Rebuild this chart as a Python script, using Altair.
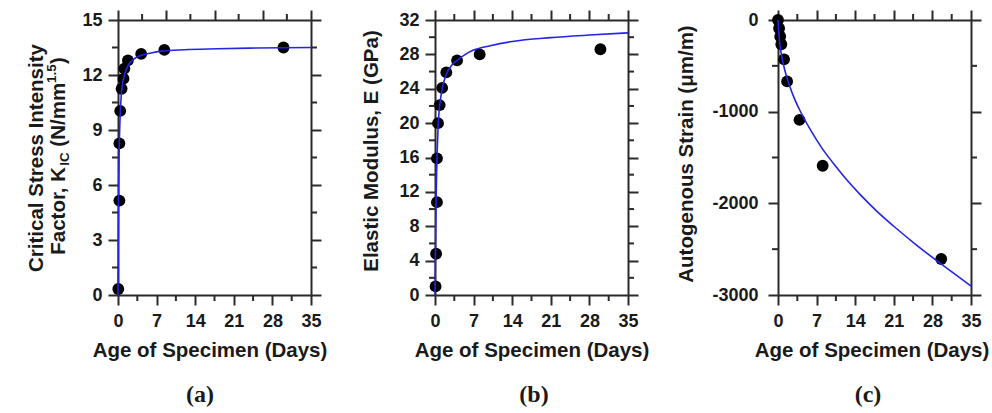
import altair as alt
import pandas as pd

# ---------------- (a) critical stress intensity factor ----------------
a_age = [0.05, 0.25, 0.25, 0.4, 0.65, 1.0, 1.15, 1.8, 4.2, 8.4, 30.0]
a_kic = [0.33, 5.15, 8.27, 10.04, 11.25, 11.8, 12.35, 12.8, 13.15, 13.37, 13.5]
a_fit_age = [0, 0.05, 0.1, 0.2, 0.3, 0.4, 0.6, 0.8, 1.0, 1.5, 2.0, 3.0, 4.0, 6.0, 8.0, 12, 18, 25, 35]
a_fit_kic = [0, 3.4, 5.4, 7.7, 9.0, 9.9, 10.9, 11.5, 11.8, 12.3, 12.6, 12.9, 13.05, 13.2, 13.3, 13.38, 13.43, 13.47, 13.5]

# ---------------- (b) elastic modulus ----------------
b_age = [0.1, 0.2, 0.35, 0.35, 0.55, 0.85, 1.3, 2.05, 4.0, 8.1, 30.0]
b_mod = [1.0, 4.8, 10.8, 15.9, 20.0, 22.1, 24.1, 25.9, 27.3, 28.0, 28.6]
b_fit_age = [0, 0.1, 0.2, 0.3, 0.4, 0.55, 0.7, 0.85, 1.0, 1.33, 2.0, 3.0, 4.0, 5.5, 7.0, 10, 14, 21, 28, 35]
b_fit_mod = [0, 6.0, 11.0, 14.5, 16.8, 19.5, 21.0, 22.1, 22.8, 24.1, 25.6, 26.7, 27.3, 28.0, 28.5, 29.0, 29.5, 29.95, 30.25, 30.5]

# ---------------- (c) autogenous strain ----------------
c_age = [0.0, 0.2, 0.4, 0.6, 1.1, 1.65, 3.9, 8.1, 29.6]
c_strain = [0, -90, -180, -265, -430, -670, -1090, -1590, -2607]
c_fit_age = [0, 0.3, 0.6, 1.2, 2, 3, 4, 6, 8, 10, 12, 15, 18, 21, 25, 30, 35]
c_fit_strain = [0, -250, -370, -540, -700, -860, -990, -1210, -1400, -1560, -1710, -1910,
                -2090, -2250, -2450, -2680, -2902]

# ---------------- tick positions ----------------
x_major = [0, 7, 14, 21, 28, 35]
x_minor = [3.5, 10.5, 17.5, 24.5, 31.5]
a_top_major = [0, 8.75, 17.5, 26.25, 35]
a_top_minor = [4.375, 13.125, 21.875, 30.625]
a_y_major = [0, 3, 6, 9, 12, 15]
a_y_minor = [1.5, 4.5, 7.5, 10.5, 13.5]
b_y_major = [0, 4, 8, 12, 16, 20, 24, 28, 32]
b_y_minor = [2, 6, 10, 14, 18, 22, 26, 30]
c_y_major = [0, -1000, -2000, -3000]
c_y_minor = [-500, -1500, -2500]

W, H = 193, 275
INK = "#2a2a2a"
TXT = "#1a1a1a"
BLUE = "#2424e8"
SANS = "Liberation Sans"
SERIF = "Liberation Serif"
TITLE_SIZE = 20.5
ONE = pd.DataFrame({"k": [0]})

# advance widths (em) of Liberation Sans Bold, for composing rich titles
ADV = {'F': .611, 'a': .556, 'c': .556, 't': .333, 'o': .611, 'r': .389, ',': .278,
       ' ': .278, 'K': .722, 'I': .278, 'C': .722, '(': .333, 'N': .722, '/': .278,
       'm': .889, '1': .556, '.': .278, '5': .556, ')': .333}


def text_width(s, size):
    return sum(ADV[ch] for ch in s) * size


def label(txt, x, y, size=TITLE_SIZE, angle=0, dx=0, dy=0, align="center",
          baseline="alphabetic", font=SANS):
    return alt.Chart(ONE).mark_text(
        text=txt, font=font, fontSize=size, fontWeight="bold", color=TXT,
        angle=angle, align=align, baseline=baseline, dx=dx, dy=dy,
    ).encode(x=alt.value(x), y=alt.value(y))


def rich_vertical(pieces, x, y):
    """Rotated title made of (text, size, shift) pieces, centred at (x, y)."""
    total = sum(text_width(s, sz) for s, sz, _ in pieces)
    pos = -total / 2
    out = []
    for s, sz, shift in pieces:
        body = s.lstrip(" ")
        lead = text_width(s[: len(s) - len(body)], sz)
        out.append(label(body, x, y, size=sz, angle=270, dx=pos + lead, dy=7 + shift, align="left"))
        pos += text_width(s, sz)
    return out


def minor_ticks(xs, ys, bottom, top, yminor):
    rule = dict(color=INK, strokeWidth=2)
    df = lambda v: pd.DataFrame({"t": v})
    return [
        alt.Chart(df(bottom)).mark_rule(**rule).encode(
            x=alt.X("t:Q", scale=xs, axis=None), y=alt.value(H), y2=alt.value(H + 6)),
        alt.Chart(df(top)).mark_rule(**rule).encode(
            x=alt.X("t:Q", scale=xs, axis=None), y=alt.value(0), y2=alt.value(-6)),
        alt.Chart(df(yminor)).mark_rule(**rule).encode(
            y=alt.Y("t:Q", scale=ys, axis=None), x=alt.value(0), x2=alt.value(-6)),
        alt.Chart(df(yminor)).mark_rule(**rule).encode(
            y=alt.Y("t:Q", scale=ys, axis=None), x=alt.value(W), x2=alt.value(W + 6)),
    ]


def panel(pts, fit, ydom, ymaj, ymin, top_maj, top_min, ypad, titles, tag, tag_x, title_shift):
    xs = alt.Scale(domain=[0, 35], nice=False, zero=False)
    ys = alt.Scale(domain=ydom, nice=False, zero=False)
    dots = alt.Chart(pd.DataFrame({"age": pts[0], "v": pts[1]})).mark_circle(
        size=140, color="black", opacity=1).encode(
        x=alt.X("age:Q", scale=xs, axis=alt.Axis(
            orient="top", values=top_maj, tickSize=10, labels=False, title=None)),
        y=alt.Y("v:Q", scale=ys, axis=alt.Axis(
            orient="right", values=ymaj, tickSize=10, labels=False, title=None)),
    )
    curve = alt.Chart(pd.DataFrame({"age": fit[0], "v": fit[1]})).mark_line(
        color=BLUE, strokeWidth=1.6, interpolate="monotone").encode(
        x=alt.X("age:Q", scale=xs, axis=alt.Axis(
            orient="bottom", values=x_major, tickSize=10, labelPadding=7,
            labelFlush=False, labelOverlap=False, labelExpr="'' + datum.value",
            title="Age of Specimen (Days)", titlePadding=10, titleX=W / 2 + title_shift)),
        y=alt.Y("v:Q", scale=ys, axis=alt.Axis(
            orient="left", values=ymaj, tickSize=10, labelPadding=ypad,
            labelFlush=False, labelOverlap=False, labelExpr="'' + datum.value",
            title=None)),
    )
    layers = [dots, curve] + minor_ticks(xs, ys, x_minor, top_min, ymin) + titles
    layers.append(label(tag, tag_x, 375, size=24, baseline="middle", font=SERIF))
    return alt.layer(*layers).properties(width=W, height=H)


def spacer(w):
    return alt.Chart(ONE).mark_point(opacity=0).properties(width=w, height=H)


titles_a = [label("Critical Stress Intensity", -82, 138, angle=270, dy=7)] + rich_vertical(
    [("Factor, K", TITLE_SIZE, 0), ("IC", 13.5, 4), (" (N/mm", TITLE_SIZE, 0),
     ("1.5", 13.5, -9), (")", TITLE_SIZE, 0)], -60, 136)
titles_b = [label("Elastic Modulus, E (GPa)", -64, 131, angle=270, dy=7)]
titles_c = [label("Autogenous Strain (\u03bcm/m)", -92, 134, angle=270, dy=7)]

pa = panel((a_age, a_kic), (a_fit_age, a_fit_kic), [0, 15], a_y_major, a_y_minor,
           a_top_major, a_top_minor, 6, titles_a, "(a)", 82, -5)
pb = panel((b_age, b_mod), (b_fit_age, b_fit_mod), [0, 32], b_y_major, b_y_minor,
           x_major, x_minor, 6, titles_b, "(b)", 99, 0)
pc = panel((c_age, c_strain), (c_fit_age, c_fit_strain), [-3000, 0], c_y_major, c_y_minor,
           x_major, x_minor, 10, titles_c, "(c)", 90, -3)

chart = alt.hconcat(pa, spacer(124), pb, spacer(150), pc, spacing=0, bounds="flush").properties(
    padding={"left": 27, "top": 9, "right": 0, "bottom": 0},
    background="white",
).configure_axis(
    labelFont=SANS, labelFontSize=18, labelFontWeight="bold", labelColor=TXT,
    titleFont=SANS, titleFontSize=TITLE_SIZE, titleFontWeight="bold", titleColor=TXT,
    domainColor=INK, domainWidth=2, tickColor=INK, tickWidth=2, grid=False,
).configure_view(stroke=None)

chart.save("out.html", embed_options={"renderer": "svg", "actions": False})
